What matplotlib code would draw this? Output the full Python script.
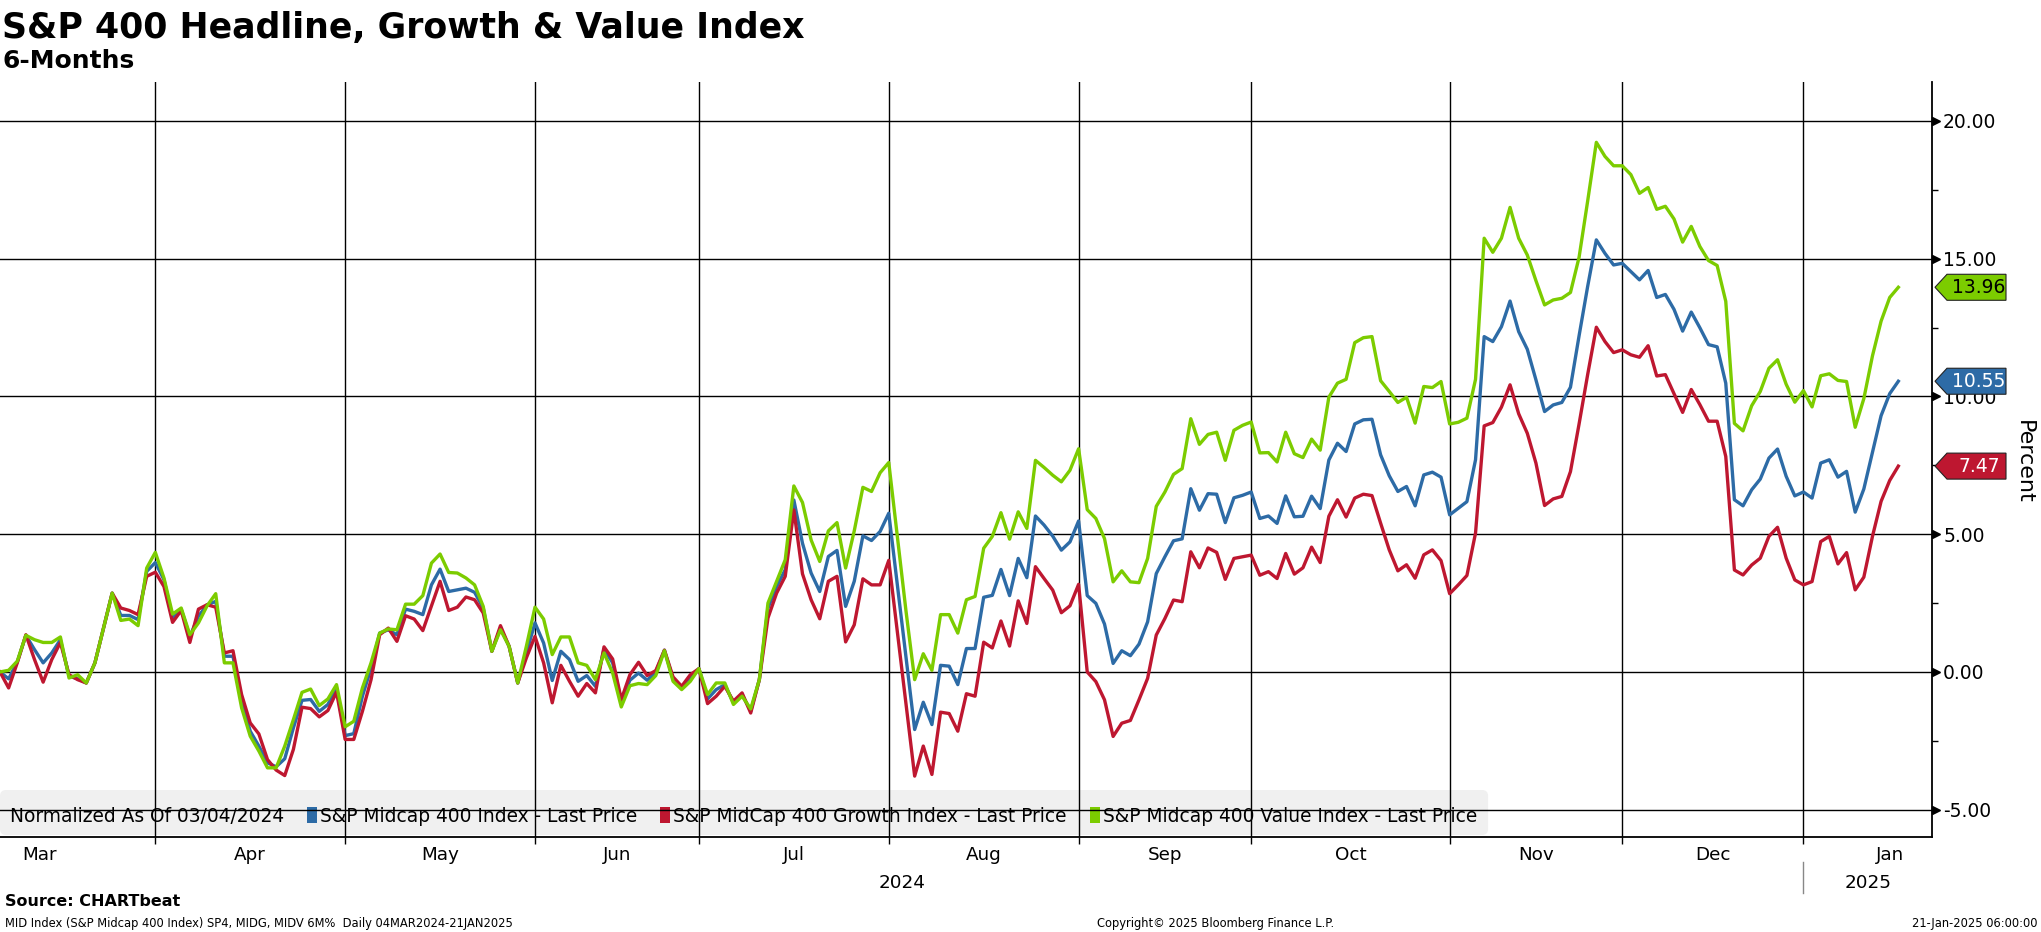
import matplotlib
matplotlib.use("Agg")
import matplotlib.pyplot as plt
import matplotlib.transforms as mtransforms
from matplotlib.patches import Polygon, FancyBboxPatch, Rectangle
import numpy as np

# ---------------- data (percent change, normalized as of 03/04/2024) ----------------
headline = [
    0.00, -0.25, 0.36, 1.33, 0.81, 0.33, 0.69, 1.17, -0.15, -0.25,
    -0.40, 0.33, 1.60, 2.86, 2.05, 2.05, 1.90, 3.65, 3.97, 3.35,
    1.96, 2.28, 1.29, 2.02, 2.44, 2.56, 0.57, 0.57, -1.06, -2.15,
    -2.69, -3.30, -3.44, -3.15, -2.03, -1.03, -1.00, -1.43, -1.18, -0.58,
    -2.31, -2.24, -0.88, 0.14, 1.41, 1.53, 1.35, 2.28, 2.20, 2.08,
    3.16, 3.73, 2.92, 2.98, 3.04, 2.89, 2.32, 0.75, 1.59, 0.93,
    -0.40, 0.69, 1.78, 1.05, -0.31, 0.75, 0.45, -0.34, -0.13, -0.52,
    0.83, 0.33, -1.06, -0.30, -0.04, -0.30, 0.00, 0.79, -0.26, -0.58,
    -0.22, 0.12, -0.98, -0.64, -0.46, -1.12, -0.82, -1.42, -0.28, 2.32,
    3.10, 3.71, 6.24, 4.67, 3.59, 2.92, 4.19, 4.41, 2.38, 3.29,
    4.94, 4.77, 5.10, 5.76, 3.14, 0.53, -2.09, -1.10, -1.91, 0.24,
    0.21, -0.46, 0.85, 0.85, 2.71, 2.78, 3.72, 2.77, 4.12, 3.42,
    5.66, 5.33, 4.93, 4.42, 4.72, 5.48, 2.77, 2.49, 1.74, 0.31,
    0.77, 0.59, 1.01, 1.82, 3.57, 4.18, 4.76, 4.83, 6.65, 5.87,
    6.47, 6.45, 5.42, 6.32, 6.41, 6.53, 5.57, 5.66, 5.39, 6.39,
    5.63, 5.65, 6.38, 5.93, 7.69, 8.30, 8.00, 9.00, 9.15, 9.17,
    7.88, 7.12, 6.55, 6.73, 6.03, 7.15, 7.25, 7.07, 5.70, 5.94,
    6.18, 7.70, 12.17, 11.99, 12.53, 13.46, 12.35, 11.71, 10.60, 9.45,
    9.69, 9.78, 10.33, 12.20, 14.00, 15.68, 15.19, 14.77, 14.83, 14.53,
    14.23, 14.57, 13.59, 13.70, 13.16, 12.37, 13.06, 12.49, 11.88, 11.80,
    10.48, 6.25, 6.03, 6.61, 7.00, 7.76, 8.09, 7.10, 6.39, 6.53,
    6.31, 7.58, 7.70, 7.07, 7.28, 5.80, 6.64, 7.97, 9.30, 10.10,
    10.55,
]
growth = [
    0.00, -0.58, 0.33, 1.35, 0.45, -0.37, 0.45, 1.07, -0.10, -0.28,
    -0.40, 0.33, 1.60, 2.86, 2.32, 2.23, 2.08, 3.47, 3.62, 3.10,
    1.80, 2.23, 1.07, 2.28, 2.44, 2.35, 0.69, 0.77, -0.82, -1.85,
    -2.25, -3.18, -3.56, -3.76, -2.81, -1.28, -1.33, -1.63, -1.40, -0.73,
    -2.45, -2.45, -1.43, -0.28, 1.35, 1.59, 1.11, 2.04, 1.92, 1.50,
    2.40, 3.29, 2.23, 2.35, 2.72, 2.62, 2.14, 0.75, 1.68, 0.93,
    -0.40, 0.51, 1.29, 0.33, -1.12, 0.24, -0.34, -0.88, -0.42, -0.76,
    0.91, 0.47, -1.00, -0.10, 0.35, -0.13, 0.05, 0.79, -0.18, -0.52,
    -0.10, 0.12, -1.15, -0.88, -0.52, -1.06, -0.76, -1.49, -0.28, 1.96,
    2.86, 3.47, 5.88, 3.56, 2.62, 1.93, 3.29, 3.47, 1.09, 1.71,
    3.38, 3.16, 3.16, 4.05, 1.44, -1.17, -3.78, -2.69, -3.72, -1.46,
    -1.51, -2.15, -0.79, -0.88, 1.08, 0.87, 1.85, 0.94, 2.58, 1.76,
    3.82, 3.39, 2.97, 2.15, 2.40, 3.18, 0.00, -0.35, -1.01, -2.34,
    -1.86, -1.76, -1.01, -0.23, 1.34, 1.94, 2.61, 2.55, 4.36, 3.78,
    4.50, 4.34, 3.36, 4.12, 4.18, 4.24, 3.51, 3.64, 3.39, 4.30,
    3.55, 3.78, 4.53, 3.97, 5.65, 6.25, 5.62, 6.31, 6.45, 6.40,
    5.40, 4.43, 3.67, 3.89, 3.40, 4.25, 4.43, 4.04, 2.84, 3.16,
    3.50, 5.04, 8.93, 9.05, 9.61, 10.42, 9.37, 8.66, 7.58, 6.04,
    6.28, 6.37, 7.27, 9.00, 10.80, 12.51, 11.99, 11.59, 11.69, 11.51,
    11.42, 11.84, 10.74, 10.79, 10.10, 9.42, 10.25, 9.70, 9.10, 9.10,
    7.82, 3.70, 3.52, 3.88, 4.13, 4.92, 5.25, 4.13, 3.34, 3.16,
    3.28, 4.73, 4.92, 3.92, 4.33, 2.98, 3.44, 4.92, 6.19, 6.95,
    7.47,
]
value = [
    0.00, 0.06, 0.39, 1.33, 1.17, 1.07, 1.07, 1.27, -0.22, -0.10,
    -0.40, 0.33, 1.60, 2.86, 1.87, 1.92, 1.68, 3.77, 4.34, 3.41,
    2.10, 2.32, 1.35, 1.78, 2.40, 2.84, 0.33, 0.33, -1.30, -2.33,
    -2.87, -3.48, -3.48, -2.69, -1.73, -0.74, -0.62, -1.22, -0.98, -0.46,
    -1.99, -1.79, -0.58, 0.33, 1.41, 1.56, 1.53, 2.46, 2.46, 2.77,
    3.95, 4.28, 3.61, 3.59, 3.41, 3.16, 2.38, 0.75, 1.53, 0.93,
    -0.40, 0.93, 2.35, 1.92, 0.63, 1.27, 1.27, 0.33, 0.24, -0.28,
    0.69, -0.04, -1.27, -0.50, -0.42, -0.46, -0.13, 0.77, -0.34, -0.64,
    -0.34, 0.12, -0.82, -0.40, -0.40, -1.18, -0.88, -1.34, -0.28, 2.50,
    3.29, 4.07, 6.75, 6.15, 4.79, 4.01, 5.12, 5.42, 3.77, 5.12,
    6.70, 6.55, 7.23, 7.60, 4.90, 2.20, -0.28, 0.66, 0.06, 2.08,
    2.08, 1.41, 2.62, 2.74, 4.49, 4.92, 5.78, 4.82, 5.81, 5.21,
    7.68, 7.42, 7.14, 6.90, 7.32, 8.10, 5.89, 5.57, 4.84, 3.27,
    3.67, 3.27, 3.24, 4.12, 6.01, 6.53, 7.17, 7.38, 9.19, 8.26,
    8.62, 8.70, 7.68, 8.77, 8.95, 9.07, 7.95, 7.96, 7.62, 8.70,
    7.92, 7.78, 8.45, 8.05, 9.97, 10.48, 10.62, 11.95, 12.13, 12.17,
    10.57, 10.18, 9.78, 9.97, 9.03, 10.36, 10.32, 10.54, 9.00, 9.06,
    9.21, 10.62, 15.74, 15.23, 15.74, 16.86, 15.74, 15.13, 14.20, 13.32,
    13.50, 13.56, 13.77, 15.05, 17.10, 19.22, 18.71, 18.37, 18.37, 18.05,
    17.37, 17.58, 16.79, 16.90, 16.44, 15.60, 16.17, 15.44, 14.93, 14.75,
    13.45, 9.02, 8.75, 9.66, 10.18, 11.02, 11.33, 10.44, 9.79, 10.21,
    9.62, 10.75, 10.82, 10.58, 10.54, 8.88, 9.92, 11.47, 12.73, 13.59,
    13.96,
]

series_names = ["S&P Midcap 400 Index - Last Price",
                "S&P MidCap 400 Growth Index - Last Price",
                "S&P Midcap 400 Value Index - Last Price"]
series_colors = ["#2D6BA6", "#BE1730", "#7CCC00"]

# trading-day index where each new month starts (Apr ... Jan)
month_starts = [18, 40, 62, 81, 103, 125, 145, 168, 188, 209]
month_labels = ["Mar", "Apr", "May", "Jun", "Jul", "Aug", "Sep", "Oct", "Nov", "Dec", "Jan"]
month_label_pos = [4.6, 29, 51, 71.5, 92, 114, 135, 156.5, 178, 198.5, 219]
year_labels = ["2024", "2025"]
year_label_pos = [104.5, 216.5]
y_major = [-5, 0, 5, 10, 15, 20]
y_minor = [-2.5, 2.5, 7.5, 12.5, 17.5]

# ---------------- figure ----------------
W, H = 2041, 932
fig = plt.figure(figsize=(W / 100, H / 100), dpi=100)
fig.patch.set_facecolor("white")

ax_right_px, ax_top_px, ax_bot_px = 1932, 82, 837
ax = fig.add_axes([0, (H - ax_bot_px) / H, ax_right_px / W, (ax_bot_px - ax_top_px) / H])
ax.set_xlim(0, 223.9)
ax.set_ylim(-5.99, 21.41)

x = np.arange(len(headline))
for ys, c in zip([headline, growth, value], series_colors):
    ax.plot(x, ys, color=c, lw=2.4, zorder=3)

# grid
for yv in y_major:
    ax.axhline(yv, color="black", lw=1.0, zorder=1)
for xv in month_starts:
    ax.axvline(xv, color="black", lw=1.0, zorder=1)

# spines
for s in ["left", "top"]:
    ax.spines[s].set_visible(False)
for s in ["bottom", "right"]:
    ax.spines[s].set_color("black")
    ax.spines[s].set_linewidth(1.3)

# y axis on right
ax.yaxis.tick_right()
ax.set_yticks(y_major)
ax.set_yticklabels(["%.2f" % v for v in y_major], fontsize=13.5)
ax.set_yticks(y_minor, minor=True)
ax.tick_params(axis="y", which="major", length=0, pad=8)
ax.tick_params(axis="y", which="minor", length=4, width=1, direction="out", color="black")
ax.plot(np.full(len(y_major), 1.0 + 4 / 1932), y_major, linestyle="none", marker=">",
        markersize=6, color="black", transform=ax.get_yaxis_transform(), clip_on=False, zorder=5)

# x axis ticks at month boundaries, labels placed as text
ax.set_xticks(month_starts)
ax.set_xticklabels([])
ax.tick_params(axis="x", which="major", length=5, width=1, direction="out", color="black")
ax.tick_params(axis="x", which="minor", length=0)
bt = ax.get_xaxis_transform()
for lab, pos in zip(month_labels, month_label_pos):
    ax.text(pos, -0.0305, lab, transform=bt, ha="center", va="baseline", fontsize=13.2)
for lab, pos in zip(year_labels, year_label_pos):
    ax.text(pos, -0.0675, lab, transform=bt, ha="center", va="baseline", fontsize=13.2)
ax.plot([month_starts[-1], month_starts[-1]], [-0.033, -0.074], color="#888888", lw=1.0,
        transform=bt, clip_on=False)

# ---------------- legend (manual, behind grid) ----------------
ident = mtransforms.IdentityTransform()
renderer = fig.canvas.get_renderer()
leg_cy = H - 815
cursor = 10
items = [("Normalized As Of 03/04/2024", None)] + list(zip(series_names, series_colors))
for i, (txt, col) in enumerate(items):
    if col is not None:
        cursor += 23
        sq = Rectangle((cursor, leg_cy - 8), 10, 16, facecolor=col, edgecolor="none",
                       transform=ident, zorder=0.8)
        fig.add_artist(sq)
        cursor += 13
    t = fig.text(cursor, leg_cy, txt, transform=ident, ha="left", va="center_baseline",
                 fontsize=13.4, zorder=0.9)
    bb = t.get_window_extent(renderer=renderer)
    cursor += bb.width
box = FancyBboxPatch((0, H - 835), cursor + 11, 45,
                     boxstyle="round,pad=0,rounding_size=6", facecolor="#F0F0F0",
                     edgecolor="none", transform=ident, zorder=0.2)
fig.add_artist(box)
fig.patches.sort(key=lambda p: p.get_zorder())
ax.set_zorder(1)
ax.patch.set_alpha(0)

# ---------------- last value tags ----------------
for ys, c, tc in zip([value, headline, growth], [series_colors[2], series_colors[0], series_colors[1]],
                     ["black", "white", "white"]):
    v = ys[-1]
    yp = ax.transData.transform((0, v))[1]
    x0 = ax_right_px + 3
    verts = [(x0, yp), (x0 + 12, yp + 13), (2006, yp + 13), (2006, yp - 13), (x0 + 12, yp - 13)]
    poly = Polygon(verts, closed=True, facecolor=c, edgecolor="#222222", lw=0.8,
                   transform=ident, zorder=10)
    fig.add_artist(poly)
    fig.text(1979, yp, "%.2f" % v, transform=ident, ha="center", va="center",
             fontsize=13.5, color=tc, zorder=11)

# ---------------- titles & footer ----------------
fig.text(0.001, 1 - 38 / H, "S&P 400 Headline, Growth & Value Index", fontsize=25,
         fontweight="bold", ha="left", va="baseline")
fig.text(0.001, 1 - 68 / H, "6-Months", fontsize=18, fontweight="bold", ha="left", va="baseline")
fig.text(2024 / W, 1 - 462 / H, "Percent", rotation=-90, ha="center", va="center", fontsize=16)
fig.text(5 / W, 1 - 906 / H, "Source: CHARTbeat", fontsize=11.5, fontweight="bold",
         ha="left", va="baseline")
fig.text(5 / W, 1 - 923 / H,
         "MID Index (S&P Midcap 400 Index) SP4, MIDG, MIDV 6M%  Daily 04MAR2024-21JAN2025",
         fontsize=8.3, ha="left", va="center")
fig.text(1216 / W, 1 - 923 / H, "Copyright\u00a9 2025 Bloomberg Finance L.P.", fontsize=8.3,
         ha="center", va="center")
fig.text(2037 / W, 1 - 923 / H, "21-Jan-2025 06:00:00", fontsize=8.3, ha="right", va="center")

fig.savefig("out.png", dpi=100)
